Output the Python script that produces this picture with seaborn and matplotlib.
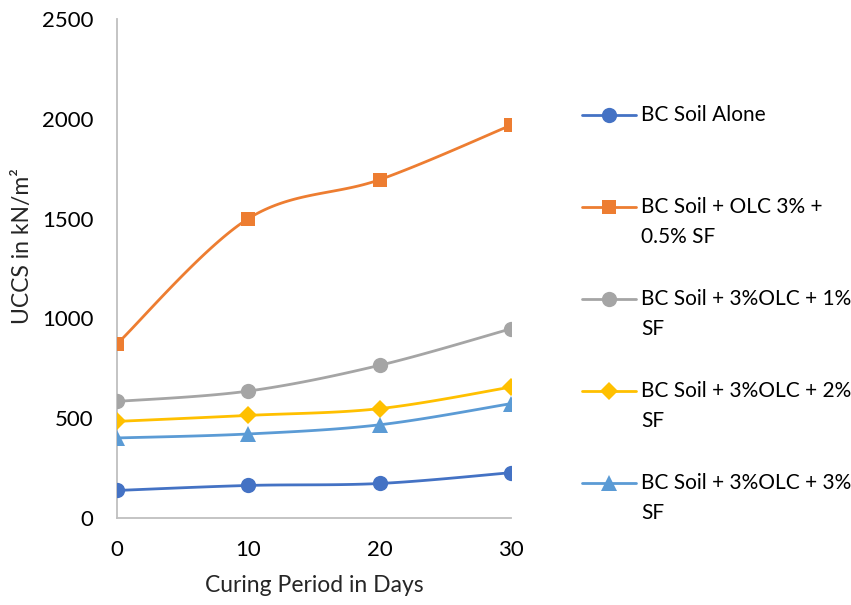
import numpy as np
import pandas as pd
import matplotlib
matplotlib.use("Agg")
import matplotlib.pyplot as plt
from matplotlib.lines import Line2D
import seaborn as sns

days = [0, 10, 20, 30]
bc_alone = [138, 163, 173, 227]
olc3_sf05 = [872, 1500, 1695, 1968]
olc3_sf1 = [584, 636, 765, 948]
olc3_sf2 = [484, 514, 548, 656]
olc3_sf3 = [401, 421, 467, 573]

series_names = [
    "BC Soil Alone",
    "BC Soil + OLC 3% +\n0.5% SF",
    "BC Soil + 3%OLC + 1%\nSF",
    "BC Soil + 3%OLC + 2%\nSF",
    "BC Soil + 3%OLC + 3%\nSF",
]
series_values = [bc_alone, olc3_sf05, olc3_sf1, olc3_sf2, olc3_sf3]
colors = ["#4472C4", "#ED7D31", "#A5A5A5", "#FFC000", "#5B9BD5"]
markers = ["o", "s", "o", "D", "^"]
msizes = [11, 10.5, 11, 9, 11]

sns.set_theme(style="white")
plt.rcParams["font.family"] = ["Lato", "DejaVu Sans"]

W, H = 851, 605
fig = plt.figure(figsize=(W / 100, H / 100), dpi=100)
ax_l, ax_r, ax_t, ax_b = 117, 511, 19, 518
ax = fig.add_axes([ax_l / W, 1 - ax_b / H, (ax_r - ax_l) / W, (ax_b - ax_t) / H])

xmin, xmax, ymin, ymax = 0, 30, 0, 2500
sx = (ax_r - ax_l) / (xmax - xmin)
sy = (ax_b - ax_t) / (ymax - ymin)


def smooth_curve(xs, ys, n=40):
    """Bezier smoothing in screen units (control points at 1/6 of neighbour chords)."""
    p = np.column_stack([np.asarray(xs, float) * sx, np.asarray(ys, float) * sy])
    out = []
    for i in range(len(p) - 1):
        p0 = p[i - 1] if i > 0 else p[i]
        p1, p2 = p[i], p[i + 1]
        p3 = p[i + 2] if i + 2 < len(p) else p[i + 1]
        c1 = p1 + (p2 - p0) / 6
        c2 = p2 - (p3 - p1) / 6
        t = np.linspace(0, 1, n)[:, None]
        seg = ((1 - t) ** 3) * p1 + 3 * ((1 - t) ** 2) * t * c1 + 3 * (1 - t) * t ** 2 * c2 + t ** 3 * p2
        out.append(seg if i == 0 else seg[1:])
    out = np.vstack(out)
    return out[:, 0] / sx, out[:, 1] / sy


for name, vals, col, mk, ms in zip(series_names, series_values, colors, markers, msizes):
    cx, cy = smooth_curve(days, vals)
    curve = pd.DataFrame({"day": cx, "uccs": cy})
    sns.lineplot(data=curve, x="day", y="uccs", ax=ax, color=col, lw=2.0,
                 sort=False, estimator=None, zorder=2)
    pts = pd.DataFrame({"day": days, "uccs": vals})
    sns.lineplot(data=pts, x="day", y="uccs", ax=ax, color=col, lw=0,
                 marker=mk, markersize=ms, markeredgewidth=0, zorder=3)

ax.set_xlim(xmin, xmax)
ax.set_ylim(ymin, ymax)
ax.set_xticks(days)
ax.set_yticks([0, 500, 1000, 1500, 2000, 2500])
ax.tick_params(axis="both", length=0, labelsize=16, colors="#000000")
ax.tick_params(axis="y", pad=17)
ax.tick_params(axis="x", pad=16)
for s in ["top", "right"]:
    ax.spines[s].set_visible(False)
for s in ["left", "bottom"]:
    ax.spines[s].set_color("#BFBFBF")
    ax.spines[s].set_linewidth(1.3)
ax.spines["left"].set_clip_on(False)
ax.set_xlabel("Curing Period in Days", fontsize=16.5, labelpad=11)
ax.set_ylabel("UCCS in kN/m²", fontsize=16.5)
ax.yaxis.set_label_coords(-0.214, 0.545)
ax.grid(False)

# Legend drawn at figure level so each marker sits beside the first text line
rows = [115, 207, 299, 391, 483]
line_gap = 30
for name, col, mk, ms, ry in zip(series_names, colors, markers, msizes, rows):
    yf = 1 - ry / H
    fig.add_artist(Line2D([582 / W, 636 / W], [yf, yf], color=col, lw=2.0,
                          transform=fig.transFigure))
    fig.add_artist(Line2D([609 / W], [yf], color=col, marker=mk, markersize=ms,
                          markeredgewidth=0, lw=0, transform=fig.transFigure))
    for k, part in enumerate(name.split("\n")):
        fig.text(641 / W, 1 - (ry + k * line_gap) / H, part, fontsize=15,
                 va="center", ha="left", color="#000000")

fig.savefig("out.png", dpi=100, facecolor="white")
